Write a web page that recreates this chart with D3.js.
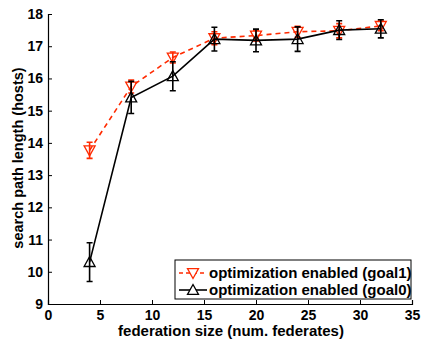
<!DOCTYPE html>
<html>
<head>
<meta charset="utf-8">
<script src="https://cdn.jsdelivr.net/npm/d3@7"></script>
<style>
  body { margin: 0; background: #fff; }
  text { font-family: "Liberation Sans", Arial, sans-serif; font-weight: bold; }
</style>
</head>
<body>
<svg id="chart" width="424" height="341"></svg>
<script>
var sizes = [4, 8, 12, 16, 20, 24, 28, 32];
var goal1 = [13.77, 15.75, 16.65, 17.25, 17.33, 17.45, 17.48, 17.63];
var goal1Err = [0.25, 0.2, 0.17, 0.2, 0.17, 0.17, 0.22, 0.15];
var goal0 = [10.3, 15.41, 16.07, 17.22, 17.18, 17.22, 17.5, 17.54];
var goal0Err = [0.6, 0.5, 0.45, 0.37, 0.35, 0.38, 0.29, 0.28];
var xTicks = [0, 5, 10, 15, 20, 25, 30, 35];
var yTicks = [9, 10, 11, 12, 13, 14, 15, 16, 17, 18];

var svg = d3.select('#chart');
var x = d3.scaleLinear().domain([0, 35]).range([48, 412]);
var y = d3.scaleLinear().domain([9, 18]).range([304, 14]);

var series = [
  { name: 'optimization enabled (goal1)', vals: goal1, err: goal1Err, color: '#ff2a00', dash: '5,4', down: true },
  { name: 'optimization enabled (goal0)', vals: goal0, err: goal0Err, color: '#000', dash: null, down: false }
];

// axes
var xAxis = svg.append('g')
  .attr('transform', 'translate(0,304)')
  .call(d3.axisBottom(x).tickValues(xTicks).tickSize(-4).tickPadding(6));
var yAxis = svg.append('g')
  .attr('transform', 'translate(48,0)')
  .call(d3.axisLeft(y).tickValues(yTicks).tickSize(-4).tickPadding(5));
[xAxis, yAxis].forEach(function(a) {
  a.select('.domain').attr('stroke', '#000').attr('stroke-width', 1.2);
  a.selectAll('line').attr('stroke', '#000');
  a.selectAll('text').attr('font-size', 14).attr('fill', '#000')
    .style('font-family', '"Liberation Sans", Arial, sans-serif').style('font-weight', 'bold');
});

function tri(cx, cy, down) {
  var s = 5.5;
  if (down) return 'M' + (cx - s) + ',' + (cy - s * 0.8) + 'L' + (cx + s) + ',' + (cy - s * 0.8) + 'L' + cx + ',' + (cy + s) + 'Z';
  return 'M' + (cx - s) + ',' + (cy + s * 0.8) + 'L' + (cx + s) + ',' + (cy + s * 0.8) + 'L' + cx + ',' + (cy - s) + 'Z';
}

var line = d3.line();
series.forEach(function(s) {
  var g = svg.append('g');
  var pts = sizes.map(function(d, i) { return [x(d), y(s.vals[i])]; });
  g.append('path').attr('d', line(pts)).attr('fill', 'none')
    .attr('stroke', s.color).attr('stroke-width', 1.6)
    .attr('stroke-dasharray', s.dash);
  sizes.forEach(function(d, i) {
    var cx = x(d), y0 = y(s.vals[i] - s.err[i]), y1 = y(s.vals[i] + s.err[i]);
    g.append('path')
      .attr('d', 'M' + cx + ',' + y0 + 'V' + y1 + 'M' + (cx - 3) + ',' + y0 + 'H' + (cx + 3) + 'M' + (cx - 3) + ',' + y1 + 'H' + (cx + 3))
      .attr('stroke', s.color).attr('stroke-width', 1.6).attr('fill', 'none');
    g.append('path').attr('d', tri(cx, y(s.vals[i]), s.down))
      .attr('fill', 'none').attr('stroke', s.color).attr('stroke-width', 1.3);
  });
});

// axis labels
svg.append('text').attr('x', 231).attr('y', 336).attr('text-anchor', 'middle')
  .attr('font-size', 15).text('federation size (num. federates)');
svg.append('text').attr('transform', 'translate(23,158) rotate(-90)')
  .attr('text-anchor', 'middle').attr('font-size', 14.5).text('search path length (hosts)');

// legend
var lg = svg.append('g');
lg.append('rect').attr('x', 175).attr('y', 260).attr('width', 236).attr('height', 39)
  .attr('fill', '#fff').attr('stroke', '#000').attr('stroke-width', 1);
series.forEach(function(s, i) {
  var ly = 273 + i * 17;
  lg.append('line').attr('x1', 179).attr('x2', 207).attr('y1', ly).attr('y2', ly)
    .attr('stroke', s.color).attr('stroke-width', 1.6).attr('stroke-dasharray', s.dash ? '4,3' : null);
  lg.append('path').attr('d', tri(193, ly, s.down)).attr('fill', '#fff')
    .attr('stroke', s.color).attr('stroke-width', 1.3);
  lg.append('text').attr('x', 209).attr('y', ly + 5).attr('font-size', 15).text(s.name);
});
</script>
</body>
</html>
